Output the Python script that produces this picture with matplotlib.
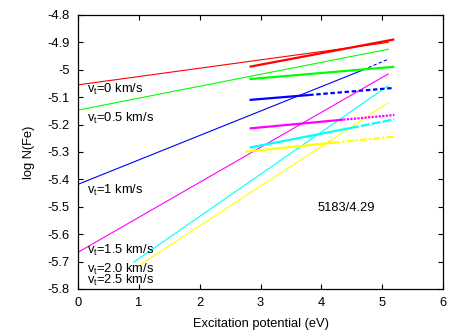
import matplotlib
matplotlib.use("Agg")
import matplotlib.pyplot as plt

plt.rcParams['font.family'] = ['Liberation Sans', 'DejaVu Sans']
plt.rcParams['font.size'] = 9.3

colors = ['#ff0000', '#00ff00', '#0000ff', '#ff00ff', '#00ffff', '#ffff00']
labels = ['0', '0.5', '1', '1.5', '2.0', '2.5']

# thin lines (curve of growth trends): start and end points
thin_x0 = [0.0, 0.0, 0.0, 0.0, 0.91, 0.99]
thin_y0 = [-5.055, -5.147, -5.418, -5.666, -5.703, -5.716]
thin_x1 = [5.1, 5.1, 5.09, 5.1, 5.1, 5.09]
thin_y1 = [-4.900, -4.925, -4.962, -5.015, -5.058, -5.122]

# thick lines: start, split (solid -> broken), end
thick_x0 = [2.82, 2.82, 2.82, 2.82, 2.82, 2.75]
thick_y0 = [-4.989, -5.034, -5.110, -5.214, -5.284, -5.299]
thick_xs = [5.2, 5.2, 3.8, 4.36, 4.47, 4.2]
thick_ys = [-4.889, -4.989, -5.092, -5.182, -5.213, -5.266]
thick_x1 = [5.2, 5.2, 5.2, 5.2, 5.2, 5.2]
thick_y1 = [-4.889, -4.989, -5.066, -5.165, -5.181, -5.244]
thick_style = ['-', '-', (0, (2, 1.2)), (0, (1, 0.6)), (0, (4, 1)), (0, (3, 1, 1, 1))]

# label positions
lab_x = [0.15, 0.15, 0.15, 0.15, 0.15, 0.15]
lab_y = [-5.07, -5.176, -5.439, -5.658, -5.728, -5.767]

fig = plt.figure(figsize=(4.63, 3.31), dpi=100)
ax = fig.add_axes([0.1685, 0.1269, 0.7883, 0.8278])

for i in range(6):
    if i == 2:
        ax.plot([thin_x0[i], 4.69], [thin_y0[i], -5.0], color=colors[i], lw=0.8)
        ax.plot([4.69, thin_x1[i]], [-5.0, thin_y1[i]], color=colors[i], lw=0.8,
                linestyle=(0, (3, 2)))
    else:
        ax.plot([thin_x0[i], thin_x1[i]], [thin_y0[i], thin_y1[i]], color=colors[i], lw=0.8)
for i in range(6):
    ax.plot([thick_x0[i], thick_xs[i]], [thick_y0[i], thick_ys[i]], color=colors[i],
            lw=1.6, solid_capstyle='butt')
    if thick_xs[i] < thick_x1[i]:
        ax.plot([thick_xs[i], thick_x1[i]], [thick_ys[i], thick_y1[i]], color=colors[i],
                lw=1.6, linestyle=thick_style[i], dash_capstyle='butt')

for i in range(6):
    ax.text(lab_x[i], lab_y[i], r'$\mathregular{v_t}$=' + labels[i] + ' km/s',
            ha='left', va='center')

ax.text(4.41, -5.503, '5183/4.29', ha='center', va='center')

ax.set_xlim(0, 6)
ax.set_ylim(-5.8, -4.8)
ax.set_xticks([0, 1, 2, 3, 4, 5, 6])
ax.set_yticks([-5.8, -5.7, -5.6, -5.5, -5.4, -5.3, -5.2, -5.1, -5.0, -4.9, -4.8])
ax.set_yticklabels(['-5.8', '-5.7', '-5.6', '-5.5', '-5.4', '-5.3', '-5.2', '-5.1', '-5',
                    '-4.9', '-4.8'])
ax.tick_params(direction='in', top=True, right=True, length=3.6, width=0.8, pad=6)
for s in ax.spines.values():
    s.set_linewidth(0.9)
ax.set_xlabel('Excitation potential (eV)', labelpad=6)
ax.set_ylabel('log N(Fe)', labelpad=9)

fig.savefig('out.png', dpi=100)
